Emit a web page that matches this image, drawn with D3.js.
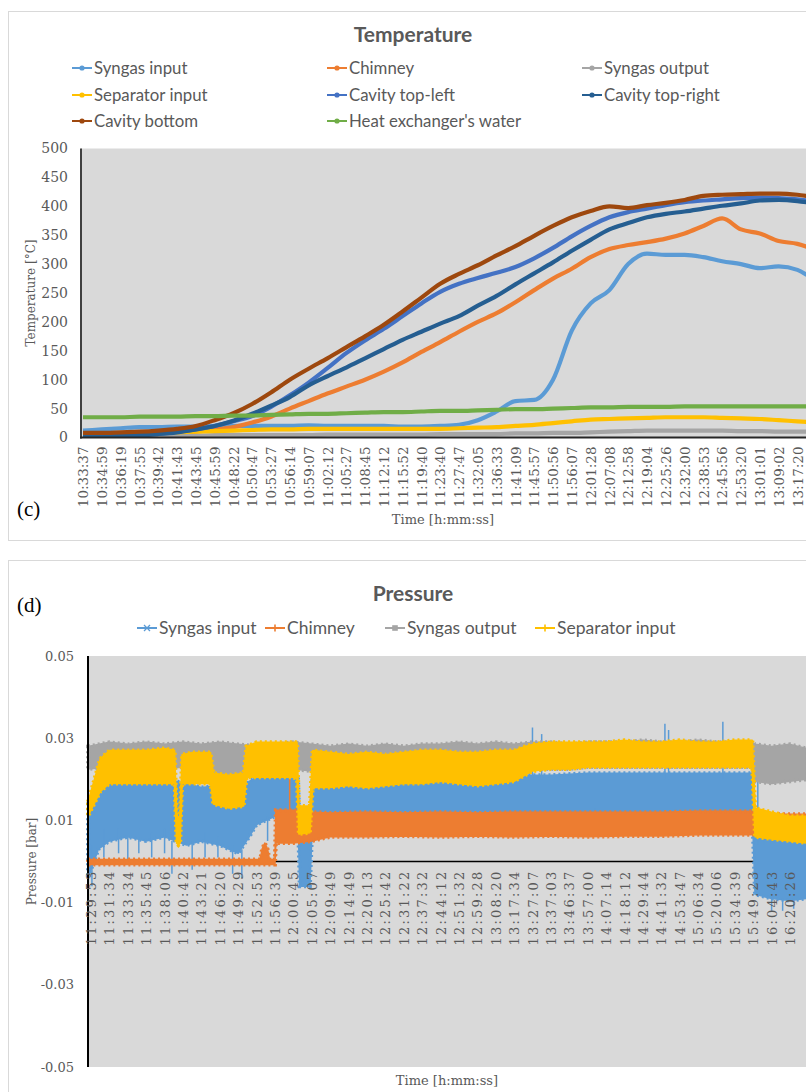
<!DOCTYPE html>
<html>
<head>
<meta charset="utf-8">
<script src="https://cdn.jsdelivr.net/npm/d3@7"></script>
<style>
  body { margin: 0; background: #fff; }
  svg { display: block; }
</style>
</head>
<body>
<svg id="chart" width="806" height="1092"></svg>
<script>

// ---------- temperature data (index = category position of the labels) ----------
var tempLabels = ["10:33:37","10:34:59","10:36:19","10:37:55","10:39:42","10:41:43","10:43:45",
  "10:45:59","10:48:22","10:50:47","10:53:27","10:56:14","10:59:07","11:02:12","11:05:27",
  "11:08:45","11:12:12","11:15:52","11:19:40","11:23:40","11:27:47","11:32:05","11:36:33",
  "11:41:09","11:45:57","11:50:56","11:56:07","12:01:28","12:07:08","12:12:58","12:19:04",
  "12:25:26","12:32:00","12:38:53","12:45:56","12:53:20","13:01:01","13:09:02","13:17:20"];

var tempIdx = [0,1,2,3,4,5,6,7,8,9,10,11,12,13,14,15,16,17,18,19,20,21,22,23,24,25,26,27,28,29,
  30,31,32,33,34,35,36,37,38,38.5];

var tSyngasIn  = [12,14,16,18,18,19,19,20,20,20,20,20,21,20,20,20,20,19,19,20,22,30,45,63,65,100,185,232,255,300,318,316,316,312,305,300,293,296,290,281];
var tChimney   = [5,5,5,5,6,8,10,14,18,26,36,50,63,76,88,100,114,130,148,165,183,200,215,234,255,275,292,312,326,333,338,344,353,366,379,360,353,340,335,330];
var tSyngasOut = [3,3,3,3,3,3,3,4,4,4,4,4,4,5,5,5,5,5,5,6,6,6,6,7,7,8,8,9,10,11,12,12,12,12,12,11,11,10,10,10];
var tSepIn     = [5,5,6,7,8,9,10,11,12,13,14,14,15,15,15,15,15,15,15,15,16,17,18,20,22,25,28,31,32,33,34,35,35,35,34,33,32,30,28,27];
var tTopLeft   = [3,3,4,5,7,10,14,20,28,37,53,73,95,120,146,168,188,210,232,252,266,276,285,295,310,328,348,366,381,390,396,402,407,410,412,414,415,414,412,410];
var tTopRight  = [3,3,3,4,6,9,14,20,29,41,55,70,90,106,121,137,153,169,183,197,210,228,245,265,284,303,323,342,360,371,381,387,391,396,401,405,410,411,409,407];
var tBottom    = [8,8,9,10,12,15,20,30,42,58,78,100,119,137,156,175,195,218,242,266,283,298,315,331,349,366,381,392,400,397,402,406,411,418,420,421,422,422,420,418];
var tWater     = [35,35,35,36,36,36,37,37,38,38,39,40,41,41,42,43,44,44,45,46,46,47,48,49,49,50,51,52,52,53,53,53,54,54,54,54,54,54,54,54];

var tempNames  = ["Syngas input","Chimney","Syngas output","Separator input","Cavity top-left",
  "Cavity top-right","Cavity bottom","Heat exchanger's water"];
var tempColors = ["#5B9BD5","#ED7D31","#A5A5A5","#FFC000","#4472C4","#255E91","#9E480E","#70AD47"];
var tempTicks  = [0,50,100,150,200,250,300,350,400,450,500];

// ---------- pressure data (noisy bands: upper / lower envelope) ----------
var presLabels = ["11:29:53","11:31:34","11:33:34","11:35:45","11:38:06","11:40:42","11:43:21",
  "11:46:20","11:49:29","11:52:53","11:56:39","12:00:45","12:05:07","12:09:49","12:14:49",
  "12:20:13","12:25:42","12:31:22","12:37:32","12:44:12","12:51:32","12:59:28","13:08:20",
  "13:17:34","13:27:07","13:37:03","13:46:37","13:57:00","14:07:14","14:18:12","14:29:44",
  "14:41:32","14:53:47","15:06:34","15:20:06","15:34:39","15:49:23","16:04:43","16:20:26"];
var presTicks = [0.05,0.03,0.01,-0.01,-0.03,-0.05];
var presTickText = ["0.05","0.03","0.01","-0.01","-0.03","-0.05"];

var pInPos = [-0.16,0.4,1,2,3,4,4.6,5.2,6,7,8,8.6,9,10,11,11.25,11.35,11.9,12.05,13,15,17,19,21,23,25,27,29,31,33,35,35.95,36.1,37,38,38.9];
var pInHi  = [0.014,0.019,0.0205,0.020,0.0195,0.0205,0.0195,0.019,0.018,0.0185,0.017,0.0195,0.0205,0.021,0.021,0.021,0.006,0.006,0.0205,0.0205,0.021,0.021,0.021,0.021,0.021,0.021,0.0215,0.0215,0.0215,0.0215,0.0215,0.0215,0.006,0.0055,0.005,0.005];
var pInLo  = [-0.004,0.003,0.005,0.006,0.005,0.006,0.005,0.004,0.005,0.004,0.002,0.006,0.009,0.011,0.011,0.011,-0.006,-0.006,0.011,0.0115,0.0115,0.012,0.012,0.012,0.012,0.012,0.012,0.012,0.012,0.012,0.012,0.012,-0.008,-0.009,-0.0095,-0.009];
var pInSpikePos = [0.05,0.7,1.5,2.0,2.6,3.3,4.0,4.4,5.5,6.2,6.9,7.7,8.2,9.6,24.0,24.5,27.4,31.2,31.4,34.35,36.25,36.6,37.0,37.6,38.2];
var pInSpikeLo  = [-0.006,0.001,0.002,-0.0005,0.002,0.001,0.002,-0.003,-0.002,0.001,0.001,-0.003,-0.004,0.005,0.02,0.02,0.009,0.02,0.02,0.02,0.004,0.004,-0.009,-0.009,-0.009];
var pInSpikeHi  = [0.004,0.008,0.008,0.006,0.008,0.007,0.008,0.005,0.005,0.007,0.006,0.004,0.003,0.011,0.0326,0.031,0.013,0.0335,0.032,0.034,0.0195,0.012,-0.012,-0.012,-0.0115];

var pChimPos = [-0.16,9.2,9.3,9.45,9.6,9.7,10.0,10.05,11,12,13,15,17,19,21,23,25,27,29,31,33,35,35.95,36.1,37,38,38.9];
var pChimHi  = [0.0005,0.0005,0.003,0.0045,0.003,0.0005,0.0005,0.0125,0.0125,0.012,0.0118,0.012,0.0118,0.012,0.0118,0.012,0.012,0.012,0.012,0.012,0.0122,0.0122,0.0122,0.0115,0.0115,0.0115,0.0115];
var pChimLo  = [-0.0007,-0.0007,-0.0007,-0.0007,-0.0007,-0.0007,-0.0007,0.0045,0.0045,0.005,0.006,0.006,0.0062,0.006,0.0062,0.006,0.0062,0.006,0.0062,0.0062,0.0065,0.0065,0.0065,0.007,0.007,0.007,0.007];
var pChimSpikePos = [10.8];
var pChimSpikeLo  = [0.0115];
var pChimSpikeHi  = [0.0205];

var pOutPos = [-0.16,1,2,3,4,5,6,7,8,9,10,11,12,13,14,15,16,17,18,19,20,21,22,23,24,25,26,27,28,29,30,31,32,33,34,35,35.95,36.1,37,38,38.9];
var pOutHi  = [0.028,0.029,0.0285,0.029,0.0285,0.029,0.0285,0.029,0.0285,0.028,0.0285,0.029,0.0285,0.028,0.0285,0.028,0.0285,0.028,0.0285,0.0285,0.029,0.0285,0.029,0.0285,0.029,0.029,0.0285,0.029,0.029,0.029,0.0295,0.029,0.029,0.0295,0.029,0.029,0.029,0.0285,0.028,0.0285,0.0275];
var pOutLo  = [0.0225,0.023,0.023,0.023,0.0225,0.023,0.022,0.0205,0.0205,0.022,0.023,0.0225,0.022,0.022,0.022,0.0215,0.022,0.022,0.022,0.022,0.022,0.0215,0.022,0.022,0.0225,0.0225,0.0225,0.023,0.023,0.023,0.023,0.023,0.023,0.023,0.023,0.023,0.023,0.0195,0.019,0.0195,0.02];

var pSepPos = [-0.16,0.5,1,2,3,4,4.55,4.65,4.75,4.85,4.95,5.5,6.5,6.65,7.5,8.3,8.45,9,10,11,11.2,11.3,11.9,12.05,13,14,15,16,17,18,19,20,21,22,23,23.6,24,25,26,27,28,29,30,31,32,33,34,35,35.95,36.1,37,38,38.9];
var pSepHi  = [0.0145,0.025,0.027,0.027,0.027,0.0275,0.027,0.012,0.010,0.012,0.026,0.0265,0.0265,0.0215,0.021,0.0215,0.028,0.029,0.029,0.029,0.029,0.0135,0.0135,0.027,0.0265,0.026,0.0265,0.026,0.0265,0.027,0.027,0.0265,0.0265,0.027,0.027,0.028,0.0285,0.029,0.029,0.029,0.029,0.0295,0.029,0.029,0.0295,0.029,0.029,0.0295,0.0295,0.013,0.012,0.011,0.011];
var pSepLo  = [0.011,0.017,0.019,0.019,0.019,0.019,0.019,0.0045,0.004,0.0045,0.019,0.019,0.019,0.014,0.013,0.0135,0.0205,0.0205,0.0205,0.0205,0.02,0.0067,0.007,0.018,0.018,0.0185,0.018,0.0185,0.019,0.019,0.0195,0.019,0.0185,0.019,0.0195,0.021,0.022,0.0225,0.0225,0.023,0.023,0.023,0.023,0.023,0.023,0.023,0.023,0.023,0.023,0.006,0.0055,0.005,0.0045];

var presNames  = ["Syngas input","Chimney","Syngas output","Separator input"];
var presColors = ["#5B9BD5","#ED7D31","#A5A5A5","#FFC000"];
var presMarks  = ["x","plus","square","plus"];

var SERIF = "'DejaVu Serif', serif";
var SANS = "Lato, 'Open Sans', sans-serif";
var GREY_TXT = "#595959";

var svg = d3.select("#chart");

function frame(y, h) {
  svg.append("rect")
    .attr("x", 8.5).attr("y", y + 0.5)
    .attr("width", 820).attr("height", h)
    .attr("fill", "#fff").attr("stroke", "#d9d9d9");
}

function draw_marker(g, kind, cx, cy, color) {
  if (kind === "circle") {
    g.append("circle").attr("cx", cx).attr("cy", cy).attr("r", 2.6).attr("fill", color);
  } else if (kind === "x") {
    g.append("path").attr("d", "M" + (cx-3) + "," + (cy-3) + "L" + (cx+3) + "," + (cy+3) +
      "M" + (cx-3) + "," + (cy+3) + "L" + (cx+3) + "," + (cy-3))
      .attr("stroke", color).attr("stroke-width", 1.3);
  } else if (kind === "plus") {
    g.append("path").attr("d", "M" + (cx-3.5) + "," + cy + "L" + (cx+3.5) + "," + cy +
      "M" + cx + "," + (cy-3.5) + "L" + cx + "," + (cy+3.5))
      .attr("stroke", color).attr("stroke-width", 1.6);
  } else {
    g.append("rect").attr("x", cx-2.8).attr("y", cy-2.8).attr("width", 5.6).attr("height", 5.6)
      .attr("fill", color);
  }
}

function legend_item(x, y, name, color, kind, fs) {
  var g = svg.append("g");
  g.append("line").attr("x1", x).attr("x2", x + 20).attr("y1", y).attr("y2", y)
    .attr("stroke", color).attr("stroke-width", 2);
  draw_marker(g, kind, x + 10, y, color);
  g.append("text").attr("x", x + 22).attr("y", y).attr("dy", "0.35em")
    .attr("font-family", SANS).attr("font-size", fs).attr("fill", GREY_TXT)
    .text(name);
}

// =============== TEMPERATURE ===============
frame(11, 529);

svg.append("text").attr("x", 413).attr("y", 42).attr("text-anchor", "middle")
  .attr("font-family", SANS).attr("font-weight", "bold").attr("font-size", 21)
  .attr("fill", GREY_TXT).text("Temperature");

var legCols = [72, 327, 582], legRows = [68, 95, 121];
tempNames.forEach(function(n, i) {
  legend_item(legCols[i % 3], legRows[Math.floor(i / 3)], n, tempColors[i], "circle", 16.8);
});

var xT = d3.scaleLinear().domain([0, 38]).range([83, 797.4]);
var yT = d3.scaleLinear().domain([0, 500]).range([437.5, 148.5]);

svg.append("rect").attr("x", 81).attr("y", yT(500)).attr("width", 740)
  .attr("height", yT(0) - yT(500)).attr("fill", "#d9d9d9");

var yAxT = svg.append("g").attr("transform", "translate(81,0)")
  .call(d3.axisLeft(yT).tickValues(tempTicks).tickSize(0).tickPadding(13));
yAxT.select(".domain").remove();
yAxT.selectAll("text").attr("font-family", SERIF).attr("font-size", 14).attr("fill", GREY_TXT);

var xAxT = svg.append("g").attr("transform", "translate(0," + yT(0) + ")")
  .call(d3.axisBottom(xT).tickValues(d3.range(tempLabels.length))
    .tickFormat(function(i) { return tempLabels[i]; }).tickSize(0));
xAxT.select(".domain").remove();
xAxT.selectAll("text")
  .attr("transform", "rotate(-90)").attr("text-anchor", "end")
  .attr("x", -9).attr("y", 0).attr("dy", "0.35em")
  .attr("font-family", SERIF).attr("font-size", 13.5).attr("fill", GREY_TXT);

var tempSeries = [tSyngasIn, tChimney, tSyngasOut, tSepIn, tTopLeft, tTopRight, tBottom, tWater];
var tLine = d3.line()
  .x(function(d) { return xT(d[0]); })
  .y(function(d) { return yT(d[1]); })
  .curve(d3.curveMonotoneX);

svg.append("g").selectAll("path")
  .data(tempSeries)
  .enter()
  .append("path")
    .attr("d", function(s) { return tLine(d3.zip(tempIdx, s)); })
    .attr("fill", "none")
    .attr("stroke", function(s, i) { return tempColors[i]; })
    .attr("stroke-width", 4.2)
    .attr("stroke-linejoin", "round");

svg.append("line").attr("x1", 81).attr("x2", 81).attr("y1", yT(500)).attr("y2", yT(0) + 1)
  .attr("stroke", "#404040").attr("stroke-width", 2);
svg.append("line").attr("x1", 80).attr("x2", 806).attr("y1", yT(0)).attr("y2", yT(0))
  .attr("stroke", "#262626").attr("stroke-width", 2);

svg.append("text").attr("transform", "translate(35," + ((yT(0) + yT(500)) / 2) + ") rotate(-90)")
  .attr("text-anchor", "middle").attr("font-family", SERIF).attr("font-size", 12)
  .attr("fill", GREY_TXT).text("Temperature [°C]");
svg.append("text").attr("x", 443).attr("y", 524).attr("text-anchor", "middle")
  .attr("font-family", SERIF).attr("font-size", 13).attr("fill", GREY_TXT)
  .text("Time [h:mm:ss]");
svg.append("text").attr("x", 17).attr("y", 516)
  .attr("font-family", "'Liberation Serif', serif").attr("font-size", 21).attr("fill", "#000")
  .text("(c)");

// =============== PRESSURE ===============
frame(560, 560);

svg.append("text").attr("x", 413).attr("y", 601).attr("text-anchor", "middle")
  .attr("font-family", SANS).attr("font-weight", "bold").attr("font-size", 21)
  .attr("fill", GREY_TXT).text("Pressure");
svg.append("text").attr("x", 17).attr("y", 612)
  .attr("font-family", "'Liberation Serif', serif").attr("font-size", 21).attr("fill", "#000")
  .text("(d)");

var pLegX = [137, 265, 385, 535];
presNames.forEach(function(n, i) {
  legend_item(pLegX[i], 628, n, presColors[i], presMarks[i], 17.5);
});

var xP = d3.scaleLinear().domain([0, 38]).range([91, 790]);
var yP = d3.scaleLinear().domain([-0.05, 0.05]).range([1067, 656]);

svg.append("rect").attr("x", 88).attr("y", yP(0.05)).attr("width", 730)
  .attr("height", yP(-0.05) - yP(0.05)).attr("fill", "#d9d9d9");

var yAxP = svg.append("g").attr("transform", "translate(88,0)")
  .call(d3.axisLeft(yP).tickValues(presTicks).tickSize(0).tickPadding(14)
    .tickFormat(function(d, i) { return presTickText[i]; }));
yAxP.select(".domain").remove();
yAxP.selectAll("text").attr("font-family", SERIF).attr("font-size", 13).attr("fill", GREY_TXT);

svg.append("line").attr("x1", 88).attr("x2", 806).attr("y1", yP(0)).attr("y2", yP(0))
  .attr("stroke", "#000").attr("stroke-width", 1.5);

function band(pos, hi, lo) {
  return pos.map(function(p, k) { return {i: p, hi: hi[k], lo: lo[k]}; });
}
var pBand = d3.area()
  .x(function(d) { return xP(d.i); })
  .y0(function(d) { return yP(d.lo); })
  .y1(function(d) { return yP(d.hi); });

var presBands = [
  band(pInPos, pInHi, pInLo),
  band(pChimPos, pChimHi, pChimLo),
  band(pOutPos, pOutHi, pOutLo),
  band(pSepPos, pSepHi, pSepLo)
];
var presSpikes = [
  band(pInSpikePos, pInSpikeHi, pInSpikeLo),
  band(pChimSpikePos, pChimSpikeHi, pChimSpikeLo),
  [], []
];

var pg = svg.append("g");
presBands.forEach(function(b, s) {
  pg.append("path")
    .attr("d", pBand(b))
    .attr("fill", presColors[s])
    .attr("stroke", presColors[s])
    .attr("stroke-width", 1.5)
    .attr("stroke-linejoin", "round");
  // ragged outline: the markers of the dense noisy samples
  pg.append("path")
    .attr("d", pBand(b))
    .attr("fill", "none")
    .attr("stroke", presColors[s])
    .attr("stroke-width", 4)
    .attr("stroke-dasharray", "2 3");
  pg.selectAll(null)
    .data(presSpikes[s])
    .enter()
    .append("line")
      .attr("x1", function(d) { return xP(d.i); })
      .attr("x2", function(d) { return xP(d.i); })
      .attr("y1", function(d) { return yP(d.lo); })
      .attr("y2", function(d) { return yP(d.hi); })
      .attr("stroke", presColors[s])
      .attr("stroke-width", 1.5);
});

svg.append("line").attr("x1", 88).attr("x2", 88).attr("y1", yP(0.05)).attr("y2", yP(-0.05))
  .attr("stroke", "#000").attr("stroke-width", 2);

var xAxP = svg.append("g").attr("transform", "translate(0," + yP(0) + ")")
  .call(d3.axisBottom(xP).tickValues(d3.range(presLabels.length))
    .tickFormat(function(i) { return presLabels[i]; }).tickSize(0));
xAxP.select(".domain").remove();
xAxP.selectAll("text")
  .attr("transform", "rotate(-90)").attr("text-anchor", "end")
  .attr("x", -8).attr("y", 0).attr("dy", "0.35em")
  .attr("font-family", SERIF).attr("font-size", 13).attr("letter-spacing", 2.2)
  .attr("fill", GREY_TXT);

svg.append("text").attr("transform", "translate(36," + yP(0) + ") rotate(-90)")
  .attr("text-anchor", "middle").attr("font-family", SERIF).attr("font-size", 12)
  .attr("fill", GREY_TXT).text("Pressure [bar]");
svg.append("text").attr("x", 447).attr("y", 1085).attr("text-anchor", "middle")
  .attr("font-family", SERIF).attr("font-size", 13).attr("fill", GREY_TXT)
  .text("Time [h:mm:ss]");

</script>
</body>
</html>
